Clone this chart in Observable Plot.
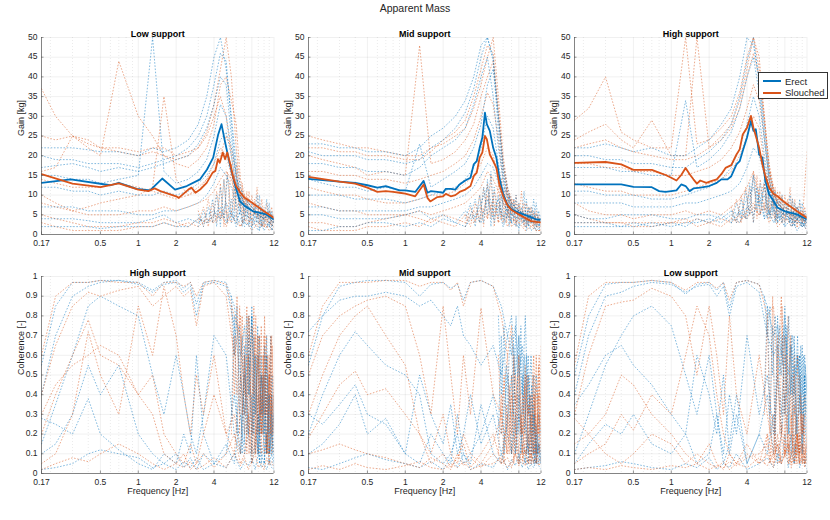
<!DOCTYPE html>
<html><head><meta charset="utf-8">
<script src="https://cdn.jsdelivr.net/npm/d3@7"></script>
<script src="https://cdn.jsdelivr.net/npm/@observablehq/plot@0.6"></script>
<style>
body{margin:0;background:#fff;}
#root{position:relative;width:830px;height:520px;font-family:"Liberation Sans",Arial,Helvetica,sans-serif;color:#262626;overflow:hidden;}
#title{position:absolute;left:0;width:830px;top:2px;text-align:center;font-size:10.5px;}
#legend{position:absolute;left:758px;top:72px;width:68px;height:25px;border:0.8px solid #333;background:#fff;font-size:9.5px;}
#legend .row{position:absolute;left:4px;height:12px;display:flex;align-items:center;}
#legend .sw{width:18px;height:2px;margin-right:4px;}
</style></head><body>
<div id="root"><div id="title">Apparent Mass</div></div>
<script>
const BLUE = "#0072BD", ORANGE = "#D95319";
const xMajor = [0.17, 0.5, 1, 2, 4, 8, 12];
const xMinor = [0.2, 0.3, 0.4, 0.6, 0.7, 0.8, 0.9, 3, 5, 6, 7, 9, 10, 11];
const gainTicks = [0, 5, 10, 15, 20, 25, 30, 35, 40, 45, 50];
const cohTicks = [0, 0.1, 0.2, 0.3, 0.4, 0.5, 0.6, 0.7, 0.8, 0.9, 1];

// ---- mean curves (frequency Hz, value) ----
const gainLowErect = [[0.17,13.1],[0.29,14.0],[0.6,12.5],[0.7,13.1],[0.97,11.6],[1.24,11.2],[1.55,14.2],[1.96,11.4],[2.43,12.3],[3.1,14.0],[3.52,16.5],[3.94,19.5],[4.32,25.4],[4.59,28.0],[4.88,23.7],[5.35,17.8],[5.86,12.7],[6.42,8.5],[7.05,7.2],[8.19,5.9],[10.4,5.1],[12,3.8]];
const gainLowSlouched = [[0.17,15.3],[0.3,12.9],[0.5,12.0],[0.7,13.0],[1,11.4],[1.2,11.0],[1.35,11.7],[1.5,11.0],[2,9.7],[2.1,9.3],[2.5,11.4],[2.65,11.9],[2.85,10.6],[3.1,11.4],[3.5,13.1],[3.9,15.7],[4.1,16.1],[4.3,19.1],[4.45,18.2],[4.7,20.8],[4.9,19.1],[5.1,20.8],[5.4,17.8],[5.7,14.4],[6,12.3],[6.5,10.6],[7,9.3],[8,8.1],[10,5.9],[12,4.2]];
const gainMidErect = [[0.17,14.1],[0.3,13.4],[0.4,13.1],[0.5,12.5],[0.6,11.9],[0.7,12.3],[0.8,11.7],[0.9,11.2],[1,11.2],[1.2,10.8],[1.4,13.6],[1.5,10.6],[1.6,11.0],[1.8,10.8],[2,10.6],[2.1,11.6],[2.3,11.6],[2.5,11.4],[2.7,12.7],[3,13.7],[3.3,14.4],[3.5,17.8],[3.7,18.6],[3.9,22.0],[4.1,24.6],[4.3,30.9],[4.45,28.0],[4.7,26.3],[5,22.0],[5.3,19.5],[5.6,14.4],[6,10.2],[6.5,7.6],[7,6.4],[8,5.5],[10,4.4],[11,3.8],[12,3.8]];
const gainMidSlouched = [[0.17,14.6],[0.3,13.4],[0.4,12.9],[0.5,11.9],[0.6,10.8],[0.7,11.0],[0.8,10.8],[0.9,10.6],[1,10.4],[1.2,9.7],[1.4,12.7],[1.5,9.3],[1.58,8.4],[1.8,9.5],[2,9.7],[2.1,10.3],[2.3,9.7],[2.5,10.0],[2.7,10.8],[3,11.4],[3.3,12.3],[3.5,14.8],[3.7,15.7],[3.9,19.5],[4.1,20.8],[4.3,25.0],[4.45,24.2],[4.7,20.3],[5,18.6],[5.3,16.9],[5.6,12.7],[6,9.7],[6.5,7.4],[7,6.2],[8,5.1],[10,3.4],[12,3.0]];
const gainHighErect = [[0.17,12.7],[0.3,12.7],[0.4,12.7],[0.5,12.1],[0.7,12.0],[0.8,11.0],[0.9,10.8],[1,11.0],[1.1,11.2],[1.2,12.7],[1.3,12.3],[1.4,11.0],[1.5,11.7],[1.7,11.9],[2,12.3],[2.3,13.1],[2.5,14.0],[2.8,14.0],[3,14.8],[3.3,17.8],[3.5,18.6],[3.7,21.2],[4,24.6],[4.3,28.8],[4.5,26.3],[4.7,26.7],[5,20.3],[5.3,19.5],[5.6,13.6],[6,10.2],[6.5,8.5],[7,6.8],[8,5.9],[10,5.1],[12,3.8]];
const gainHighSlouched = [[0.17,18.2],[0.3,18.4],[0.4,17.8],[0.5,16.4],[0.7,16.4],[0.8,15.7],[0.9,15.1],[1,14.4],[1.1,13.7],[1.2,15.1],[1.3,16.9],[1.4,15.3],[1.5,14.0],[1.6,12.9],[1.7,13.7],[1.9,13.1],[2.1,13.6],[2.3,14.0],[2.5,15.3],[2.7,16.9],[3,17.6],[3.3,20.3],[3.5,21.6],[3.7,25.4],[4,27.1],[4.3,30.1],[4.5,27.1],[4.7,25.0],[5,22.0],[5.3,17.8],[5.6,14.8],[6,11.9],[6.5,10.3],[7,9.7],[8,8.1],[10,5.9],[12,4.2]];

// ---- individual (dotted) gain curves ----
const gainGrid = [0.17,0.22,0.3,0.4,0.5,0.7,1,1.3,1.6,2,2.5,3,3.5,4,4.5,5,5.5,6,6.5,7,8,9,10,11,12];
const dotLowErect = [
 [22,22,22,21.5,21,21,20,22,21,22,24,28,35,45,50,42,30,18,12,9,7,5,6,4,3],
 [17,17.5,18,17,16,17,16,17,18,19,20,23,27,33,40,38,25,14,9,8,6,7,5,6,4],
 [12,12,11,11,10,11,10,10,11,10,11,13,15,18,24,26,20,12,8,6,5,4,5,3,4],
 [4,4,4,3.5,3,3,3,4,5,3,4,3,5,6,4,8,5,3,6,2,4,1,3,2,1],
 [2,2,2,2,1.5,2,2,2,3,2,2,4,3,5,7,3,6,2,4,3,2,5,1,3,2],
 [15,15,14,14,13,14,15,50,16,13,14,16,19,25,33,30,22,15,10,8,6,5,4,6,3],
 [20,19,19,18,18,18,17,18,19,20,22,25,30,38,46,44,28,15,10,7,6,5,4,5,3],
 [7,7,7,6,6,6,5,5,6,6,7,8,10,13,17,15,12,8,6,5,4,3,4,2,3]];
const dotLowSlouched = [
 [37,30,25,23,22,22,21,22,22,20,21,22,25,30,35,30,20,12,8,6,5,6,4,3,2],
 [16,17,25,22,20,44,30,25,20,18,17,19,22,28,38,40,34,28,14,10,8,6,5,4,3],
 [10,8,6,7,8,9,10,12,35,14,10,12,14,16,20,25,22,16,10,8,6,4,5,3,4],
 [5,4,3,2,2,2,3,3,4,3,2,4,3,5,4,6,3,5,2,4,3,2,3,1,2],
 [14,13,12,12,12,13,12,11,10,9,10,11,14,18,22,20,15,12,10,8,6,5,4,3,3],
 [3,2,1,1,1,1,2,2,3,2,3,2,4,3,6,2,5,3,2,4,1,3,2,2,1],
 [25,24,25,24,22,21,20,21,20,19,20,22,26,33,42,50,40,22,12,9,7,5,6,4,3],
 [8,7,6,5,5,5,6,6,7,6,7,8,9,11,14,16,14,10,7,5,4,3,2,3,2]];
const dotMidErect = [
 [23,23,22,22,21,21,20,22,25,27,30,34,40,48,50,45,30,18,12,8,6,5,7,4,3],
 [18,18,17,17,16,16,15,17,20,22,24,27,33,40,45,35,22,14,9,7,6,4,5,3,4],
 [10,10,10,9,9,9,8,9,10,11,12,14,17,22,30,27,18,11,7,5,6,3,4,2,3],
 [5,5,4,4,4,4,5,6,4,5,3,6,4,8,12,6,9,4,7,3,5,2,4,1,2],
 [1,1,2,2,3,3,2,3,2,4,3,2,5,3,9,4,7,2,5,3,2,4,1,2,1],
 [14,13,12,12,11,12,11,23,12,14,16,18,22,28,38,42,30,16,10,7,5,6,3,4,2],
 [21,20,20,20,19,19,18,19,22,24,27,31,37,45,50,44,26,15,10,8,6,5,4,5,3],
 [7,7,6,6,6,6,6,7,7,8,9,10,12,15,18,17,13,8,6,5,4,4,3,3,2]];
const dotMidSlouched = [
 [25,24,23,22,22,21,20,20,22,23,25,27,32,38,45,50,35,20,12,9,7,5,6,4,3],
 [20,19,18,17,15,16,15,48,18,19,21,24,28,35,40,44,32,18,11,8,6,5,4,5,3],
 [12,11,10,10,9,8,8,9,10,10,11,13,15,18,22,20,15,10,7,5,4,3,4,2,2],
 [3,3,2,2,3,4,5,4,3,5,4,3,6,4,10,5,8,3,6,2,4,2,3,1,1],
 [8,7,6,6,5,5,5,6,5,6,7,8,10,12,16,14,11,8,6,4,3,4,2,3,1],
 [2,1,1,1,2,2,3,2,4,3,2,5,3,7,4,9,3,5,2,4,3,1,2,1,1],
 [22,22,21,21,20,20,19,19,21,24,26,29,35,42,48,46,30,17,11,8,6,5,4,4,3],
 [16,16,15,15,14,14,13,14,15,16,18,20,24,30,36,33,24,13,9,7,5,4,5,3,3]];
const dotHighErect = [
 [22,22,23,22,21,22,20,20,22,24,28,32,40,50,48,40,28,16,11,8,6,5,7,4,3],
 [17,17,17,16,16,15,15,34,17,19,22,26,32,40,45,36,24,14,9,7,5,6,4,5,3],
 [11,11,10,10,10,9,9,10,11,12,14,17,22,28,35,30,20,12,8,6,5,4,5,3,4],
 [5,4,4,5,5,5,4,4,5,5,4,6,5,9,12,7,10,5,7,3,6,2,4,2,3],
 [3,3,3,2,2,3,2,3,3,4,3,5,3,7,5,10,4,6,3,5,2,4,1,3,1],
 [2,2,2,2,3,2,3,2,4,3,5,3,6,4,15,8,12,5,8,4,6,3,5,2,4],
 [20,20,19,19,18,18,17,17,19,21,24,28,35,44,50,38,25,14,9,7,6,5,4,4,3],
 [8,8,8,8,7,7,7,8,8,9,10,11,13,17,22,20,15,9,6,5,4,4,3,3,2]];
const dotHighSlouched = [
 [29,32,40,26,24,22,22,50,23,24,27,30,36,45,50,42,30,18,12,9,7,6,5,6,4],
 [24,26,28,24,22,29,20,20,50,22,24,27,32,40,46,40,28,16,11,8,6,5,7,4,5],
 [18,18,17,17,16,16,15,15,16,17,19,22,26,32,38,34,24,14,10,8,6,5,4,5,3],
 [13,12,11,11,10,10,10,11,12,13,14,16,20,25,30,27,18,11,8,6,5,4,3,4,2],
 [5,4,3,3,2,2,3,4,2,3,2,4,3,6,8,5,7,3,5,2,4,3,2,3,1],
 [8,6,5,5,4,5,5,6,5,6,5,7,9,12,16,10,13,6,9,5,7,4,6,3,21],
 [22,23,24,22,21,20,19,19,20,22,25,28,34,42,50,45,30,17,11,8,6,5,5,4,3],
 [3,3,3,3,3,3,3,3,4,3,4,3,5,4,7,5,8,4,6,3,5,2,4,2,3]];

// ---- high-frequency scatter of individual gain curves ----
const gainNoiseGrid = [3,3.3,3.6,3.9,4.2,4.5,4.8,5.1,5.5,5.8,6.1,6.4,6.7,7,7.3,7.6,8,8.4,8.8,9.2,9.6,10,10.5,11,11.5,12];
const noiseLowErect = [
 [2,6,3,9,2,12,4,15,3,12,3,10,2,8,4,9,1,7,3,10,2,6,4,8,1,5],
 [5,2,7,3,10,2,14,3,9,4,14,5,11,3,9,2,8,4,10,1,7,3,9,2,6,3]];
const noiseLowSlouched = [
 [3,7,2,8,3,13,2,16,5,15,5,12,3,10,6,11,2,9,4,8,2,7,3,6,2,4],
 [6,2,9,3,11,4,14,3,18,6,18,7,13,4,11,3,10,5,12,3,9,2,8,4,7,3]];
const noiseMidErect = [
 [4,8,2,10,3,14,2,12,4,10,3,9,2,8,4,10,1,7,3,9,2,6,4,8,2,5],
 [2,5,9,3,12,5,16,3,10,5,12,4,10,3,9,2,8,4,11,1,7,3,9,2,6,3]];
const noiseMidSlouched = [
 [5,2,8,3,12,4,15,2,13,4,11,3,10,5,9,2,8,4,8,2,7,3,6,2,5,2],
 [2,7,3,10,2,13,4,11,3,14,5,12,4,9,3,10,4,11,2,8,3,7,2,6,3,4]];
const noiseHighErect = [
 [3,8,4,11,5,15,6,13,4,12,4,10,3,9,4,10,2,8,3,9,2,7,4,8,2,5],
 [6,3,9,4,13,3,12,5,14,4,12,5,11,3,9,3,8,5,10,2,8,3,9,2,6,4]];
const noiseHighSlouched = [
 [4,9,3,12,5,16,4,14,6,15,5,13,4,11,6,10,3,9,4,9,3,7,4,6,3,5],
 [7,3,10,4,12,3,15,5,13,6,16,7,12,4,11,3,10,5,12,3,9,2,8,3,7,4]];

// ---- individual coherence curves ----
const cohGrid = [0.17,0.22,0.3,0.4,0.5,0.7,1,1.3,1.6,2,2.3,2.6,2.9,3.3,4,5,5.8,6.5,7,7.5,8,8.5,9,9.5,10,10.5,11,11.5,12];
const cohHighErect = [
 [0.55,0.85,0.97,0.97,0.98,0.98,0.97,0.93,0.97,0.98,0.94,0.97,0.86,0.97,0.98,0.97,0.85,0.6,0.75,0.4,0.8,0.3,0.6,0.2,0.5,0.1,0.4,0.2,0.3],
 [0.4,0.7,0.9,0.95,0.97,0.98,0.96,0.92,0.96,0.97,0.92,0.95,0.8,0.96,0.97,0.95,0.75,0.5,0.3,0.7,0.2,0.6,0.1,0.5,0.3,0.7,0.1,0.4,0.05],
 [0.15,0.35,0.6,0.85,0.9,0.85,0.8,0.5,0.3,0.6,0.4,0.2,0.1,0.3,0.7,0.6,0.2,0.1,0.5,0.2,0.4,0.1,0.3,0.05,0.2,0.4,0.1,0.2,0.05],
 [0.1,0.15,0.3,0.55,0.4,0.55,0.2,0.1,0.05,0.1,0.03,0.08,0.02,0.1,0.05,0.15,0.05,0.3,0.1,0.2,0.05,0.15,0.3,0.1,0.05,0.2,0.05,0.1,0.02],
 [0.02,0.03,0.05,0.1,0.12,0.1,0.08,0.03,0.05,0.02,0.06,0.03,0.08,0.02,0.05,0.03,0.1,0.02,0.06,0.04,0.08,0.02,0.1,0.03,0.05,0.02,0.07,0.03,0.02],
 [0.28,0.25,0.2,0.38,0.2,0.12,0.05,0.02,0.1,0.05,0.2,0.1,0.6,0.2,0.05,0.1,0.4,0.1,0.6,0.2,0.8,0.3,0.1,0.5,0.2,0.6,0.1,0.3,0.1]];
const cohHighSlouched = [
 [0.6,0.9,0.97,0.97,0.98,0.97,0.97,0.9,0.97,0.97,0.95,0.97,0.9,0.97,0.98,0.96,0.8,0.7,0.4,0.8,0.5,0.2,0.7,0.3,0.6,0.1,0.5,0.3,0.4],
 [0.4,0.65,0.85,0.92,0.9,0.93,0.95,0.85,0.9,0.95,0.9,0.93,0.75,0.95,0.97,0.9,0.6,0.8,0.3,0.6,0.1,0.7,0.2,0.5,0.3,0.1,0.6,0.2,0.1],
 [0.2,0.4,0.6,0.78,0.6,0.55,0.4,0.5,0.2,0.1,0.05,0.15,0.05,0.2,0.4,0.2,0.1,0.5,0.2,0.6,0.3,0.1,0.4,0.2,0.7,0.3,0.5,0.1,0.3],
 [0.05,0.1,0.3,0.72,0.5,0.3,0.85,0.6,0.95,0.7,0.4,0.2,0.5,0.3,0.6,0.2,0.3,0.1,0.5,0.3,0.1,0.4,0.6,0.2,0.5,0.1,0.3,0.7,0.2],
 [0.02,0.05,0.08,0.06,0.1,0.15,0.1,0.05,0.02,0.05,0.03,0.06,0.02,0.04,0.08,0.03,0.1,0.04,0.08,0.02,0.06,0.1,0.03,0.05,0.02,0.08,0.04,0.06,0.03],
 [0.3,0.45,0.55,0.6,0.65,0.6,0.4,0.3,0.1,0.05,0.1,0.02,0.05,0.1,0.03,0.1,0.2,0.05,0.1,0.3,0.05,0.2,0.1,0.4,0.1,0.2,0.05,0.4,0.2]];
const cohMidErect = [
 [0.55,0.8,0.95,0.97,0.98,0.98,0.97,0.9,0.96,0.97,0.94,0.96,0.88,0.97,0.98,0.95,0.85,0.7,0.8,0.5,0.7,0.4,0.8,0.3,0.6,0.2,0.5,0.3,0.2],
 [0.72,0.8,0.88,0.9,0.9,0.92,0.9,0.85,0.88,0.8,0.75,0.85,0.7,0.65,0.55,0.65,0.5,0.7,0.6,0.75,0.5,0.65,0.3,0.6,0.2,0.5,0.1,0.3,0.05],
 [0.2,0.4,0.6,0.72,0.65,0.55,0.5,0.4,0.1,0.05,0.1,0.2,0.05,0.1,0.2,0.4,0.2,0.5,0.3,0.1,0.4,0.2,0.3,0.1,0.2,0.05,0.15,0.1,0.05],
 [0.3,0.25,0.35,0.45,0.3,0.25,0.1,0.05,0.2,0.1,0.05,0.3,0.1,0.05,0.35,0.1,0.05,0.2,0.1,0.3,0.05,0.2,0.1,0.15,0.05,0.1,0.2,0.05,0.1],
 [0.03,0.02,0.05,0.08,0.1,0.07,0.05,0.03,0.06,0.02,0.08,0.03,0.1,0.02,0.05,0.03,0.1,0.02,0.07,0.04,0.1,0.03,0.08,0.02,0.05,0.03,0.07,0.04,0.02],
 [0.1,0.15,0.25,0.4,0.2,0.28,0.1,0.5,0.3,0.15,0.35,0.1,0.2,0.4,0.15,0.3,0.1,0.25,0.5,0.1,0.3,0.15,0.05,0.2,0.1,0.3,0.05,0.15,0.1]];
const cohMidSlouched = [
 [0.6,0.85,0.97,0.97,0.97,0.98,0.98,0.95,0.97,0.97,0.93,0.97,0.85,0.97,0.98,0.95,0.8,0.6,0.75,0.35,0.6,0.2,0.5,0.3,0.4,0.1,0.6,0.2,0.4],
 [0.5,0.7,0.8,0.85,0.88,0.9,0.85,0.6,0.3,0.85,0.5,0.2,0.6,0.3,0.84,0.4,0.3,0.6,0.1,0.5,0.3,0.2,0.55,0.1,0.3,0.6,0.2,0.4,0.1],
 [0.18,0.3,0.45,0.52,0.4,0.43,0.3,0.2,0.05,0.1,0.03,0.08,0.15,0.03,0.1,0.2,0.05,0.3,0.1,0.2,0.05,0.15,0.1,0.05,0.2,0.1,0.05,0.15,0.05],
 [0.1,0.12,0.15,0.12,0.1,0.08,0.05,0.03,0.08,0.05,0.02,0.1,0.04,0.08,0.03,0.1,0.05,0.08,0.03,0.1,0.05,0.12,0.04,0.08,0.1,0.05,0.12,0.06,0.08],
 [0.3,0.5,0.7,0.8,0.85,0.7,0.55,0.2,0.1,0.3,0.1,0.05,0.2,0.1,0.05,0.15,0.3,0.1,0.4,0.2,0.6,0.1,0.3,0.5,0.2,0.4,0.1,0.55,0.2],
 [0.02,0.04,0.02,0.05,0.03,0.02,0.04,0.06,0.03,0.02,0.05,0.03,0.06,0.02,0.04,0.05,0.08,0.03,0.06,0.1,0.04,0.08,0.12,0.05,0.1,0.06,0.08,0.04,0.06]];
const cohLowErect = [
 [0.5,0.8,0.96,0.97,0.97,0.98,0.97,0.91,0.96,0.97,0.93,0.97,0.84,0.97,0.98,0.96,0.85,0.7,0.75,0.6,0.8,0.5,0.7,0.4,0.6,0.5,0.3,0.6,0.4],
 [0.4,0.7,0.9,0.92,0.95,0.97,0.96,0.92,0.95,0.96,0.9,0.95,0.8,0.95,0.97,0.92,0.7,0.6,0.65,0.5,0.75,0.4,0.65,0.3,0.55,0.6,0.2,0.5,0.3],
 [0.1,0.3,0.55,0.7,0.8,0.85,0.75,0.5,0.3,0.6,0.3,0.1,0.4,0.2,0.7,0.3,0.5,0.2,0.6,0.3,0.7,0.2,0.5,0.1,0.3,0.6,0.1,0.3,0.05],
 [0.05,0.15,0.25,0.2,0.3,0.15,0.1,0.2,0.05,0.1,0.3,0.05,0.15,0.4,0.05,0.2,0.1,0.3,0.05,0.2,0.4,0.1,0.2,0.05,0.3,0.1,0.2,0.05,0.1],
 [0.02,0.03,0.04,0.06,0.05,0.03,0.02,0.05,0.03,0.08,0.02,0.05,0.03,0.1,0.02,0.05,0.08,0.03,0.1,0.05,0.2,0.03,0.1,0.05,0.15,0.03,0.08,0.05,0.02],
 [0.35,0.45,0.6,0.65,0.55,0.45,0.3,0.2,0.6,0.4,0.2,0.5,0.1,0.3,0.05,0.2,0.4,0.1,0.5,0.2,0.6,0.3,0.1,0.55,0.2,0.4,0.1,0.5,0.2]];
const cohLowSlouched = [
 [0.55,0.9,0.97,0.97,0.97,0.98,0.97,0.93,0.97,0.97,0.94,0.97,0.88,0.97,0.98,0.96,0.8,0.85,0.5,0.9,0.3,0.8,0.2,0.6,0.1,0.5,0.2,0.4,0.1],
 [0.3,0.6,0.85,0.87,0.88,0.94,0.9,0.8,0.5,0.85,0.6,0.3,0.8,0.4,0.2,0.6,0.3,0.1,0.5,0.2,0.7,0.1,0.3,0.05,0.2,0.1,0.3,0.05,0.15],
 [0.28,0.2,0.3,0.5,0.45,0.3,0.2,0.1,0.05,0.15,0.05,0.02,0.1,0.05,0.15,0.05,0.1,0.03,0.2,0.05,0.1,0.15,0.03,0.1,0.2,0.05,0.1,0.03,0.1],
 [0.05,0.1,0.15,0.3,0.22,0.4,0.3,0.6,0.85,0.7,0.4,0.2,0.1,0.05,0.1,0.05,0.2,0.08,0.15,0.05,0.1,0.2,0.05,0.15,0.08,0.2,0.05,0.1,0.05],
 [0.02,0.03,0.02,0.04,0.03,0.02,0.04,0.03,0.05,0.02,0.04,0.03,0.06,0.04,0.08,0.1,0.15,0.05,0.1,0.2,0.08,0.15,0.1,0.2,0.05,0.1,0.15,0.05,0.08],
 [0.15,0.2,0.1,0.05,0.1,0.2,0.15,0.05,0.1,0.05,0.03,0.06,0.02,0.05,0.03,0.08,0.04,0.1,0.05,0.08,0.12,0.05,0.1,0.06,0.2,0.05,0.15,0.08,0.1]];

// ---- high-frequency scatter of coherence ----
const cohNoiseGrid = [5.5,5.8,6.1,6.4,6.7,7,7.3,7.6,8,8.3,8.6,8.9,9.2,9.5,9.8,10.1,10.4,10.7,11,11.3,11.6,12];
const cnHighErect = [
 [0.9,0.6,0.85,0.3,0.7,0.15,0.8,0.4,0.85,0.2,0.6,0.1,0.7,0.3,0.5,0.05,0.6,0.2,0.4,0.1,0.5,0.2],
 [0.3,0.8,0.2,0.75,0.1,0.65,0.2,0.8,0.1,0.7,0.3,0.75,0.05,0.6,0.2,0.65,0.1,0.5,0.2,0.7,0.1,0.4]];
const cnHighSlouched = [
 [0.85,0.4,0.9,0.2,0.8,0.5,0.85,0.1,0.75,0.4,0.8,0.2,0.7,0.1,0.6,0.3,0.7,0.1,0.55,0.2,0.65,0.3],
 [0.2,0.7,0.4,0.85,0.3,0.6,0.1,0.8,0.2,0.85,0.1,0.7,0.3,0.75,0.2,0.8,0.3,0.6,0.1,0.7,0.2,0.5]];
const cnMidErect = [
 [0.8,0.4,0.75,0.2,0.6,0.7,0.3,0.8,0.2,0.75,0.3,0.6,0.1,0.5,0.2,0.45,0.1,0.3,0.05,0.2,0.1,0.05],
 [0.2,0.7,0.1,0.55,0.3,0.1,0.65,0.2,0.7,0.1,0.5,0.2,0.6,0.05,0.4,0.1,0.35,0.05,0.25,0.1,0.15,0.05]];
const cnMidSlouched = [
 [0.6,0.2,0.5,0.1,0.45,0.2,0.6,0.1,0.5,0.2,0.4,0.1,0.5,0.15,0.4,0.05,0.5,0.1,0.45,0.2,0.6,0.1],
 [0.1,0.4,0.05,0.35,0.1,0.5,0.05,0.4,0.1,0.3,0.05,0.45,0.1,0.35,0.05,0.3,0.1,0.4,0.05,0.3,0.1,0.65]];
const cnLowErect = [
 [0.9,0.7,0.85,0.5,0.8,0.6,0.75,0.55,0.85,0.6,0.8,0.4,0.7,0.65,0.5,0.7,0.3,0.65,0.4,0.6,0.3,0.5],
 [0.4,0.85,0.3,0.75,0.2,0.8,0.5,0.7,0.3,0.75,0.2,0.65,0.4,0.7,0.2,0.6,0.5,0.3,0.65,0.2,0.55,0.4]];
const cnLowSlouched = [
 [0.3,0.8,0.2,0.9,0.1,0.7,0.2,0.85,0.1,0.6,0.3,0.7,0.1,0.5,0.2,0.6,0.05,0.4,0.2,0.3,0.1,0.2],
 [0.05,0.2,0.05,0.3,0.1,0.15,0.05,0.25,0.1,0.3,0.05,0.2,0.15,0.35,0.05,0.2,0.1,0.3,0.05,0.25,0.1,0.15]];

// ---------------- drawing ----------------
const root = document.getElementById("root");
function rows(grid, traces) {
  const out = [];
  traces.forEach((vals, i) => vals.forEach((v, j) => { if (grid[j] !== undefined) out.push({f: grid[j], v, id: i}); }));
  return out;
}
function pairs(arr) { return arr.map(([f, v]) => ({f, v})); }

function panel(cfg) {
  const mL = 45, mR = 12, mT = 24, mB = 42;
  const w = cfg.w, h = cfg.h, ymax = cfg.ymax;
  const yTick = ymax * 2.5 / h;
  const xTick = 0.17 * Math.pow(12 / 0.17, 2.5 / w);
  const marks = [
    Plot.ruleX(xMinor, {stroke: "#000", strokeOpacity: 0.14, strokeWidth: 0.6, strokeDasharray: "1,2"}),
    Plot.ruleX(xMajor, {stroke: "#000", strokeOpacity: 0.1, strokeWidth: 0.6}),
    Plot.ruleY(cfg.yTicks, {stroke: "#000", strokeOpacity: 0.1, strokeWidth: 0.6}),
  ];
  cfg.dots.forEach(([grid, traces, color, op]) => {
    marks.push(Plot.line(rows(grid, traces), {x: "f", y: "v", z: "id", stroke: color,
      strokeDasharray: "0.8,2.4", strokeWidth: 0.9, strokeOpacity: op, clip: true}));
  });
  if (cfg.meanE) {
    marks.push(Plot.line(pairs(cfg.meanE), {x: "f", y: "v", stroke: BLUE, strokeWidth: 1.8, clip: true}));
    marks.push(Plot.line(pairs(cfg.meanS), {x: "f", y: "v", stroke: ORANGE, strokeWidth: 1.8, clip: true}));
  }
  marks.push(
    Plot.ruleX([0.17], {stroke: "#555", strokeWidth: 0.7}),
    Plot.ruleY([0], {stroke: "#555", strokeWidth: 0.7}),
    Plot.ruleX(xMajor, {y1: 0, y2: yTick, stroke: "#555", strokeWidth: 0.6}),
    Plot.ruleY(cfg.yTicks, {x1: 0.17, x2: xTick, stroke: "#555", strokeWidth: 0.6}),
    Plot.axisX({ticks: xMajor, tickFormat: d => String(d), tickSize: 0, tickPadding: 5, label: null, fill: "#262626"}),
    Plot.axisY({ticks: cfg.yTicks, tickFormat: cfg.yFmt, tickSize: 0, tickPadding: 4, dy: -0.5, label: null, fill: "#262626"}),
    Plot.text([cfg.title], {text: d => d, frameAnchor: "top", dy: -7, fontWeight: "bold", fontSize: 9, fill: "#000"}),
    Plot.text([cfg.yLabel], {text: d => d, frameAnchor: "left", rotate: -90, dx: -20, fontSize: 9, fill: "#262626"})
  );
  if (cfg.xLabel) marks.push(Plot.text([cfg.xLabel], {text: d => d, frameAnchor: "bottom", dy: 20, fontSize: 9, fill: "#262626"}));
  const svg = Plot.plot({
    width: w + mL + mR, height: h + mT + mB,
    marginLeft: mL, marginRight: mR, marginTop: mT, marginBottom: mB,
    x: {type: "log", domain: [0.17, 12]},
    y: {domain: [0, ymax]},
    style: {fontFamily: '"Liberation Sans", Arial, Helvetica, sans-serif', fontSize: "8.5px", background: "transparent", overflow: "visible"},
    marks
  });
  svg.style.position = "absolute";
  svg.style.left = (cfg.left - mL) + "px";
  svg.style.top = (cfg.top - mT) + "px";
  root.appendChild(svg);
}

const gainFmt = d => String(d);
const cohFmt = d => (d === 0 ? "0" : d === 1 ? "1" : d.toFixed(1));
const lefts = [41, 307.6, 573.5], W = 232.5, H = 197;
const topRow = 36.7, botRow = 275.9;

panel({left: lefts[0], top: topRow, w: W, h: H, ymax: 50, yTicks: gainTicks, yFmt: gainFmt, title: "Low support", yLabel: "Gain [kg]",
  meanE: gainLowErect, meanS: gainLowSlouched,
  dots: [[gainGrid, dotLowSlouched, ORANGE, 0.55], [gainGrid, dotLowErect, BLUE, 0.55], [gainNoiseGrid, noiseLowSlouched, ORANGE, 0.45], [gainNoiseGrid, noiseLowErect, BLUE, 0.45]]});
panel({left: lefts[1], top: topRow, w: W, h: H, ymax: 50, yTicks: gainTicks, yFmt: gainFmt, title: "Mid support", yLabel: "Gain [kg]",
  meanE: gainMidErect, meanS: gainMidSlouched,
  dots: [[gainGrid, dotMidSlouched, ORANGE, 0.55], [gainGrid, dotMidErect, BLUE, 0.55], [gainNoiseGrid, noiseMidSlouched, ORANGE, 0.45], [gainNoiseGrid, noiseMidErect, BLUE, 0.45]]});
panel({left: lefts[2], top: topRow, w: W, h: H, ymax: 50, yTicks: gainTicks, yFmt: gainFmt, title: "High support", yLabel: "Gain [kg]",
  meanE: gainHighErect, meanS: gainHighSlouched,
  dots: [[gainGrid, dotHighSlouched, ORANGE, 0.55], [gainGrid, dotHighErect, BLUE, 0.55], [gainNoiseGrid, noiseHighSlouched, ORANGE, 0.45], [gainNoiseGrid, noiseHighErect, BLUE, 0.45]]});

panel({left: lefts[0], top: botRow, w: W, h: H, ymax: 1, yTicks: cohTicks, yFmt: cohFmt, title: "High support", yLabel: "Coherence [-]", xLabel: "Frequency [Hz]",
  dots: [[cohGrid, cohHighErect, BLUE, 0.55], [cohGrid, cohHighSlouched, ORANGE, 0.55], [cohNoiseGrid, cnHighErect, BLUE, 0.5], [cohNoiseGrid, cnHighSlouched, ORANGE, 0.5]]});
panel({left: lefts[1], top: botRow, w: W, h: H, ymax: 1, yTicks: cohTicks, yFmt: cohFmt, title: "Mid support", yLabel: "Coherence [-]", xLabel: "Frequency [Hz]",
  dots: [[cohGrid, cohMidErect, BLUE, 0.55], [cohGrid, cohMidSlouched, ORANGE, 0.55], [cohNoiseGrid, cnMidErect, BLUE, 0.5], [cohNoiseGrid, cnMidSlouched, ORANGE, 0.5]]});
panel({left: lefts[2], top: botRow, w: W, h: H, ymax: 1, yTicks: cohTicks, yFmt: cohFmt, title: "Low support", yLabel: "Coherence [-]", xLabel: "Frequency [Hz]",
  dots: [[cohGrid, cohLowErect, BLUE, 0.55], [cohGrid, cohLowSlouched, ORANGE, 0.55], [cohNoiseGrid, cnLowErect, BLUE, 0.5], [cohNoiseGrid, cnLowSlouched, ORANGE, 0.5]]});

// legend
const legend = document.createElement("div");
legend.id = "legend";
[["Erect", BLUE, 2], ["Slouched", ORANGE, 13.5]].forEach(([label, color, y]) => {
  const r = document.createElement("div");
  r.className = "row"; r.style.top = y + "px";
  const sw = document.createElement("div"); sw.className = "sw"; sw.style.background = color;
  const t = document.createElement("span"); t.textContent = label;
  r.appendChild(sw); r.appendChild(t); legend.appendChild(r);
});
root.appendChild(legend);
</script>
</body></html>
